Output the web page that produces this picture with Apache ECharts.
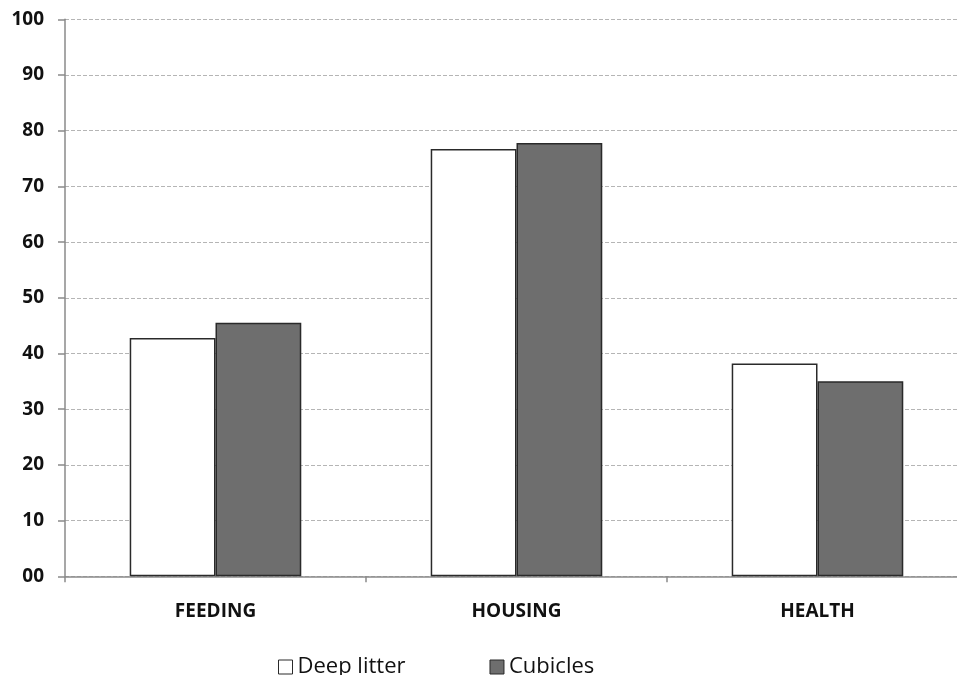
<!DOCTYPE html>
<html>
<head>
<meta charset="utf-8">
<script src="https://cdn.jsdelivr.net/npm/echarts@6/dist/echarts.min.js"></script>
<style>
  html, body { margin: 0; padding: 0; background: #fff; }
  #chart { width: 957px; height: 675px; }
</style>
</head>
<body>
<div id="chart"></div>
<script>
// Scores by welfare area for the two housing systems
const categories = ['FEEDING', 'HOUSING', 'HEALTH'];
const deepLitter = [42.8, 76.7, 38.2];
const cubicles = [45.5, 77.8, 35.0];
const seriesNames = ['Deep litter', 'Cubicles'];

const chart = echarts.init(document.getElementById('chart'), null, { renderer: 'canvas' });
const font = '"Open Sans", "DejaVu Sans", sans-serif';

chart.setOption({
  backgroundColor: '#ffffff',
  animation: false,
  // plot area runs slightly past the right edge of the canvas
  grid: { left: 65, width: 903, top: 19.3, bottom: 98.7, containLabel: false, outerBoundsMode: 'none' },
  legend: {
    data: seriesNames,
    left: 273,
    top: 651,
    icon: 'rect',
    itemWidth: 14,
    itemHeight: 14,
    itemGap: 84,
    itemStyle: { borderColor: '#2a2a2a', borderWidth: 1 },
    textStyle: { fontFamily: font, fontSize: 22, color: '#111' }
  },
  xAxis: {
    type: 'category',
    data: categories,
    axisLine: { lineStyle: { color: '#8a8a8a', width: 1.5 } },
    axisTick: { show: true, alignWithLabel: false, length: 6, lineStyle: { color: '#8a8a8a', width: 1.5 } },
    axisLabel: { fontFamily: font, fontWeight: 'bold', fontSize: 19, color: '#111', margin: 26 },
    splitLine: { show: false }
  },
  yAxis: {
    type: 'value',
    min: 0,
    max: 100,
    interval: 10,
    axisLine: { show: true, lineStyle: { color: '#8a8a8a', width: 1.5 } },
    axisTick: { show: true, length: 7, lineStyle: { color: '#8a8a8a', width: 1.5 } },
    axisLabel: {
      fontFamily: font, fontWeight: 'bold', fontSize: 19, color: '#111', margin: 21,
      formatter: v => String(v).padStart(2, '0')
    },
    splitLine: { show: true, lineStyle: { color: '#b5b5b5', type: [4, 2], width: 1 } }
  },
  series: [
    {
      name: seriesNames[0],
      type: 'bar',
      data: deepLitter,
      barGap: '0%',
      barCategoryGap: '43%',
      itemStyle: { color: '#ffffff', borderColor: '#2a2a2a', borderWidth: 1.5 }
    },
    {
      name: seriesNames[1],
      type: 'bar',
      data: cubicles,
      itemStyle: { color: '#6e6e6e', borderColor: '#2a2a2a', borderWidth: 1.5 }
    }
  ]
});
</script>
</body>
</html>
